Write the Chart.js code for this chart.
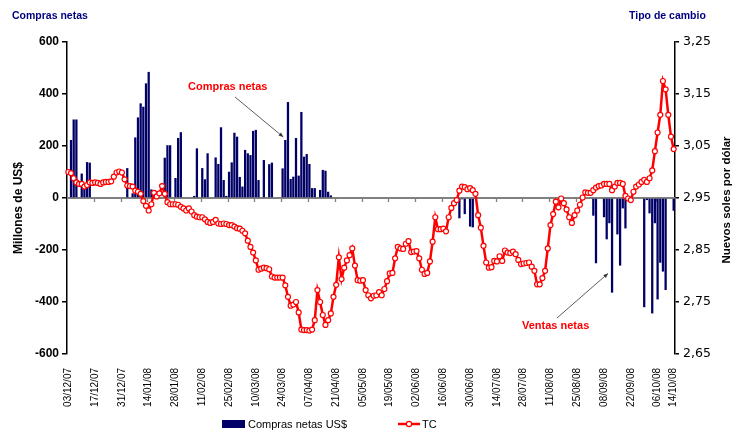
<!DOCTYPE html>
<html>
<head>
<meta charset="utf-8">
<script src="https://cdn.jsdelivr.net/npm/chart.js@4.4.0/dist/chart.umd.min.js"></script>
<style>
  html, body { margin: 0; padding: 0; background: #fff; }
  #wrap { width: 736px; height: 430px; }
</style>
</head>
<body>
<div id="wrap"><canvas id="myChart" width="736" height="430"></canvas></div>
<script>
// labelled dates on the x axis (every 10 business days + last day)
const tickLabels = ['03/12/07', '17/12/07', '31/12/07', '14/01/08', '28/01/08', '11/02/08', '25/02/08',
  '10/03/08', '24/03/08', '07/04/08', '21/04/08', '05/05/08', '19/05/08', '02/06/08', '16/06/08',
  '30/06/08', '14/07/08', '28/07/08', '11/08/08', '25/08/08', '08/09/08', '22/09/08', '06/10/08', '14/10/08'];
const leftTicks = [-600, -400, -200, 0, 200, 400, 600];
const rightTicks = [2.65, 2.75, 2.85, 2.95, 3.05, 3.15, 3.25];

// Compras netas del BCRP (millones de US$), one value per business day
const comprasNetas = [
  0, 223, 302, 302, 0, 94, 40, 138, 136, 0,
  0, 0, 0, 0, 0, 0, 0, 0, 0, 0,
  0, 0, 115, 0, 18, 233, 310, 364, 351, 441,
  485, 33, 0, 0, 0, 0, 155, 203, 203, 0,
  77, 231, 253, 0, 0, 0, 0, 8, 191, 0,
  115, 72, 172, 0, 0, 156, 131, 272, 69, 8,
  101, 137, 251, 236, 81, 44, 185, 172, 165, 258,
  262, 69, 0, 146, 0, 130, 136, 0, 0, 0,
  114, 223, 369, 73, 82, 231, 86, 331, 159, 169,
  131, 38, 38, 0, 31, 108, 105, 24, 10, 0,
  0, 0, 0, 0, 0, 0, 0, 0, 0, 0,
  0, 0, 0, 0, 0, 0, 0, 0, 0, 0,
  0, 0, 0, 0, 0, 0, 0, 0, 0, 0,
  0, 0, 0, 0, 0, 0, 0, 0, 0, 0,
  0, 0, 0, 0, 0, 0, -78, -5, -62, 0,
  -110, -113, 0, 0, 0, 0, 0, 0, 0, 0,
  0, 0, 0, 0, 0, 0, 0, 0, 0, 0,
  0, 0, 0, 0, 0, 0, 0, 0, 0, 0,
  0, 0, 0, 0, 0, 0, 0, 0, 0, 0,
  0, 0, 0, 0, 0, 0, -68, -251, 0, 0,
  -74, -159, -97, -364, 0, -140, -260, -40, -117, 0,
  0, 0, 0, 0, 0, -420, -8, -59, -444, -97,
  -390, -249, -283, -354, 0, 0, -49
];

// Tipo de cambio (S/. por US$)
const tipoCambio = [
  3.000, 2.998, 2.988, 2.980, 2.977, 2.977, 2.972, 2.975, 2.980, 2.979,
  2.980, 2.979, 2.977, 2.980, 2.981, 2.981, 2.982, 2.991, 2.999, 3.001,
  2.999, 2.986, 2.974, 2.973, 2.972, 2.964, 2.962, 2.958, 2.944, 2.935,
  2.926, 2.938, 2.960, 2.953, 2.959, 2.973, 2.958, 2.942, 2.938, 2.938,
  2.938, 2.937, 2.933, 2.930, 2.926, 2.930, 2.924, 2.917, 2.914, 2.913,
  2.913, 2.909, 2.904, 2.902, 2.904, 2.908, 2.901, 2.900, 2.901, 2.900,
  2.898, 2.898, 2.895, 2.892, 2.891, 2.887, 2.882, 2.868, 2.856, 2.845,
  2.830, 2.812, 2.814, 2.816, 2.815, 2.813, 2.799, 2.797, 2.797, 2.797,
  2.797, 2.782, 2.760, 2.743, 2.745, 2.750, 2.730, 2.697, 2.696, 2.696,
  2.695, 2.697, 2.715, 2.773, 2.750, 2.725, 2.706, 2.715, 2.728, 2.760,
  2.783, 2.836, 2.794, 2.816, 2.830, 2.840, 2.853, 2.820, 2.792, 2.791,
  2.792, 2.773, 2.763, 2.757, 2.762, 2.763, 2.769, 2.763, 2.775, 2.790,
  2.805, 2.806, 2.834, 2.856, 2.853, 2.852, 2.862, 2.867, 2.846, 2.847,
  2.848, 2.834, 2.812, 2.804, 2.806, 2.828, 2.866, 2.913, 2.890, 2.890,
  2.891, 2.886, 2.913, 2.931, 2.940, 2.946, 2.964, 2.972, 2.971, 2.967,
  2.969, 2.965, 2.958, 2.917, 2.893, 2.858, 2.826, 2.816, 2.817, 2.829,
  2.828, 2.838, 2.829, 2.849, 2.845, 2.844, 2.847, 2.842, 2.831, 2.823,
  2.824, 2.825, 2.826, 2.818, 2.810, 2.784, 2.784, 2.796, 2.810, 2.853,
  2.898, 2.919, 2.943, 2.932, 2.949, 2.940, 2.928, 2.913, 2.902, 2.917,
  2.926, 2.937, 2.951, 2.961, 2.960, 2.960, 2.965, 2.970, 2.973, 2.974,
  2.977, 2.977, 2.977, 2.965, 2.972, 2.979, 2.979, 2.977, 2.954, 2.949,
  2.946, 2.962, 2.972, 2.976, 2.981, 2.985, 2.981, 2.988, 3.003, 3.040,
  3.076, 3.110, 3.175, 3.159, 3.110, 3.068, 3.044
];

// business days starting 03/12/07
const fechas = [];
const d = new Date(2007, 11, 3);
while (fechas.length < tipoCambio.length) {
  if (d.getDay() !== 0 && d.getDay() !== 6) {
    const dd = String(d.getDate()).padStart(2, '0');
    const mm = String(d.getMonth() + 1).padStart(2, '0');
    const yy = String(d.getFullYear()).slice(2);
    fechas.push(dd + '/' + mm + '/' + yy);
  }
  d.setDate(d.getDate() + 1);
}

const FONT = "Arial, 'Liberation Sans', sans-serif";
Chart.defaults.font.family = FONT;

function arrow(ctx, x1, y1, x2, y2) {
  ctx.beginPath();
  ctx.moveTo(x1, y1);
  ctx.lineTo(x2, y2);
  ctx.stroke();
  const a = Math.atan2(y2 - y1, x2 - x1);
  ctx.beginPath();
  ctx.moveTo(x2, y2);
  ctx.lineTo(x2 - 5 * Math.cos(a - 0.4), y2 - 5 * Math.sin(a - 0.4));
  ctx.lineTo(x2 - 5 * Math.cos(a + 0.4), y2 - 5 * Math.sin(a + 0.4));
  ctx.closePath();
  ctx.fill();
}

const extras = {
  id: 'extras',
  beforeDatasetsDraw(chart) {
    const { ctx, chartArea, scales } = chart;
    const y0 = scales.y.getPixelForValue(0);
    const step = (chartArea.right - chartArea.left) / fechas.length;
    ctx.save();
    ctx.strokeStyle = '#808080';
    ctx.lineWidth = 2;
    ctx.beginPath();
    ctx.moveTo(chartArea.left, y0);
    ctx.lineTo(chartArea.right, y0);
    ctx.stroke();
    ctx.lineWidth = 1.3;
    ctx.beginPath();
    fechas.forEach((f, i) => {
      if (i > 0 && i < fechas.length - 1 && tickLabels.includes(f)) {
        const px = Math.round(scales.x.getPixelForValue(i) - step / 2) + 0.5;
        ctx.moveTo(px, y0);
        ctx.lineTo(px, y0 + 4);
      }
    });
    ctx.stroke();
    ctx.restore();
  },
  afterDraw(chart) {
    const { ctx, scales } = chart;
    ctx.save();
    ctx.textBaseline = 'middle';

    // titles
    ctx.fillStyle = '#000080';
    ctx.font = 'bold 10.5px ' + FONT;
    ctx.textAlign = 'left';
    ctx.fillText('Compras netas', 12, 16);
    ctx.fillText('Tipo de cambio', 629, 16);

    // axis titles
    ctx.fillStyle = '#000';
    ctx.font = 'bold 12px ' + FONT;
    ctx.textAlign = 'center';
    ctx.save();
    ctx.translate(19, 208);
    ctx.rotate(-Math.PI / 2);
    ctx.fillText('Millones de US$', 0, 0);
    ctx.restore();
    ctx.save();
    ctx.font = 'bold 11.5px ' + FONT;
    ctx.translate(727, 200);
    ctx.rotate(-Math.PI / 2);
    ctx.fillText('Nuevos soles por dólar', 0, 0);
    ctx.restore();

    // annotations
    ctx.fillStyle = '#ff0000';
    ctx.font = 'bold 11px ' + FONT;
    ctx.textAlign = 'left';
    ctx.fillText('Compras netas', 188, 87);
    ctx.fillText('Ventas netas', 522, 326);
    ctx.strokeStyle = '#333';
    ctx.fillStyle = '#333';
    ctx.lineWidth = 0.8;
    const bx = scales.x.getPixelForValue(81);
    const by = scales.y.getPixelForValue(comprasNetas[81]);
    arrow(ctx, 235, 97, bx - 2, by - 3);
    const vx = scales.x.getPixelForValue(203);
    arrow(ctx, 557, 318, vx - 4, scales.y.getPixelForValue(-290));

    // legend
    ctx.fillStyle = '#000066';
    ctx.fillRect(222, 420, 23, 8);
    ctx.fillStyle = '#000';
    ctx.font = '11px ' + FONT;
    ctx.fillText('Compras netas US$', 248, 424.5);
    ctx.strokeStyle = '#ff0000';
    ctx.lineWidth = 2.5;
    ctx.beginPath();
    ctx.moveTo(398, 424);
    ctx.lineTo(420, 424);
    ctx.stroke();
    ctx.fillStyle = '#fff';
    ctx.lineWidth = 1.2;
    ctx.beginPath();
    ctx.arc(409, 424, 2.6, 0, Math.PI * 2);
    ctx.fill();
    ctx.stroke();
    ctx.fillStyle = '#000';
    ctx.fillText('TC', 422, 424.5);
    ctx.restore();
  }
};

new Chart(document.getElementById('myChart').getContext('2d'), {
  type: 'bar',
  data: {
    labels: fechas,
    datasets: [
      {
        type: 'line',
        label: 'TC',
        data: tipoCambio,
        yAxisID: 'y1',
        borderColor: '#ff0000',
        borderWidth: 2.5,
        pointRadius: 2.5,
        pointBackgroundColor: '#ffffff',
        pointBorderColor: '#ff0000',
        pointBorderWidth: 1.2,
        tension: 0,
        order: 1
      },
      {
        type: 'bar',
        label: 'Compras netas US$',
        data: comprasNetas,
        yAxisID: 'y',
        backgroundColor: '#000066',
        barPercentage: 0.85,
        categoryPercentage: 1,
        order: 2
      }
    ]
  },
  options: {
    responsive: false,
    animation: false,
    layout: { padding: { top: 42, left: 0, right: 0, bottom: 0 } },
    plugins: { legend: { display: false }, tooltip: { enabled: false } },
    scales: {
      x: {
        offset: true,
        grid: { display: false },
        border: { display: false },
        ticks: {
          autoSkip: false,
          minRotation: 90,
          maxRotation: 90,
          padding: 6,
          color: '#000',
          font: { size: 10 },
          callback: function (v, i) {
            return tickLabels.includes(fechas[i]) ? fechas[i] : '';
          }
        },
        afterFit: function (s) { s.height = 76; }
      },
      y: {
        position: 'left',
        min: -600,
        max: 600,
        afterBuildTicks: function (s) { s.ticks = leftTicks.map(v => ({ value: v })); },
        grid: { drawOnChartArea: false, drawTicks: true, tickLength: 5, color: '#000', lineWidth: 1.5 },
        border: { color: '#000', width: 1.5 },
        ticks: { color: '#000', padding: 3, font: { size: 12, weight: 'bold' } },
        afterFit: function (s) { s.width = 67; }
      },
      y1: {
        position: 'right',
        min: 2.65,
        max: 3.25,
        afterBuildTicks: function (s) { s.ticks = rightTicks.map(v => ({ value: v })); },
        grid: { drawOnChartArea: false, drawTicks: true, tickLength: 4, color: '#000', lineWidth: 1.5 },
        border: { color: '#000', width: 1.5 },
        ticks: {
          color: '#000',
          padding: 4,
          font: { family: "'DejaVu Sans', sans-serif", size: 12.5 },
          callback: function (v) { return v.toFixed(2).replace('.', ','); }
        },
        afterFit: function (s) { s.width = 61; }
      }
    }
  },
  plugins: [extras]
});
</script>
</body>
</html>
